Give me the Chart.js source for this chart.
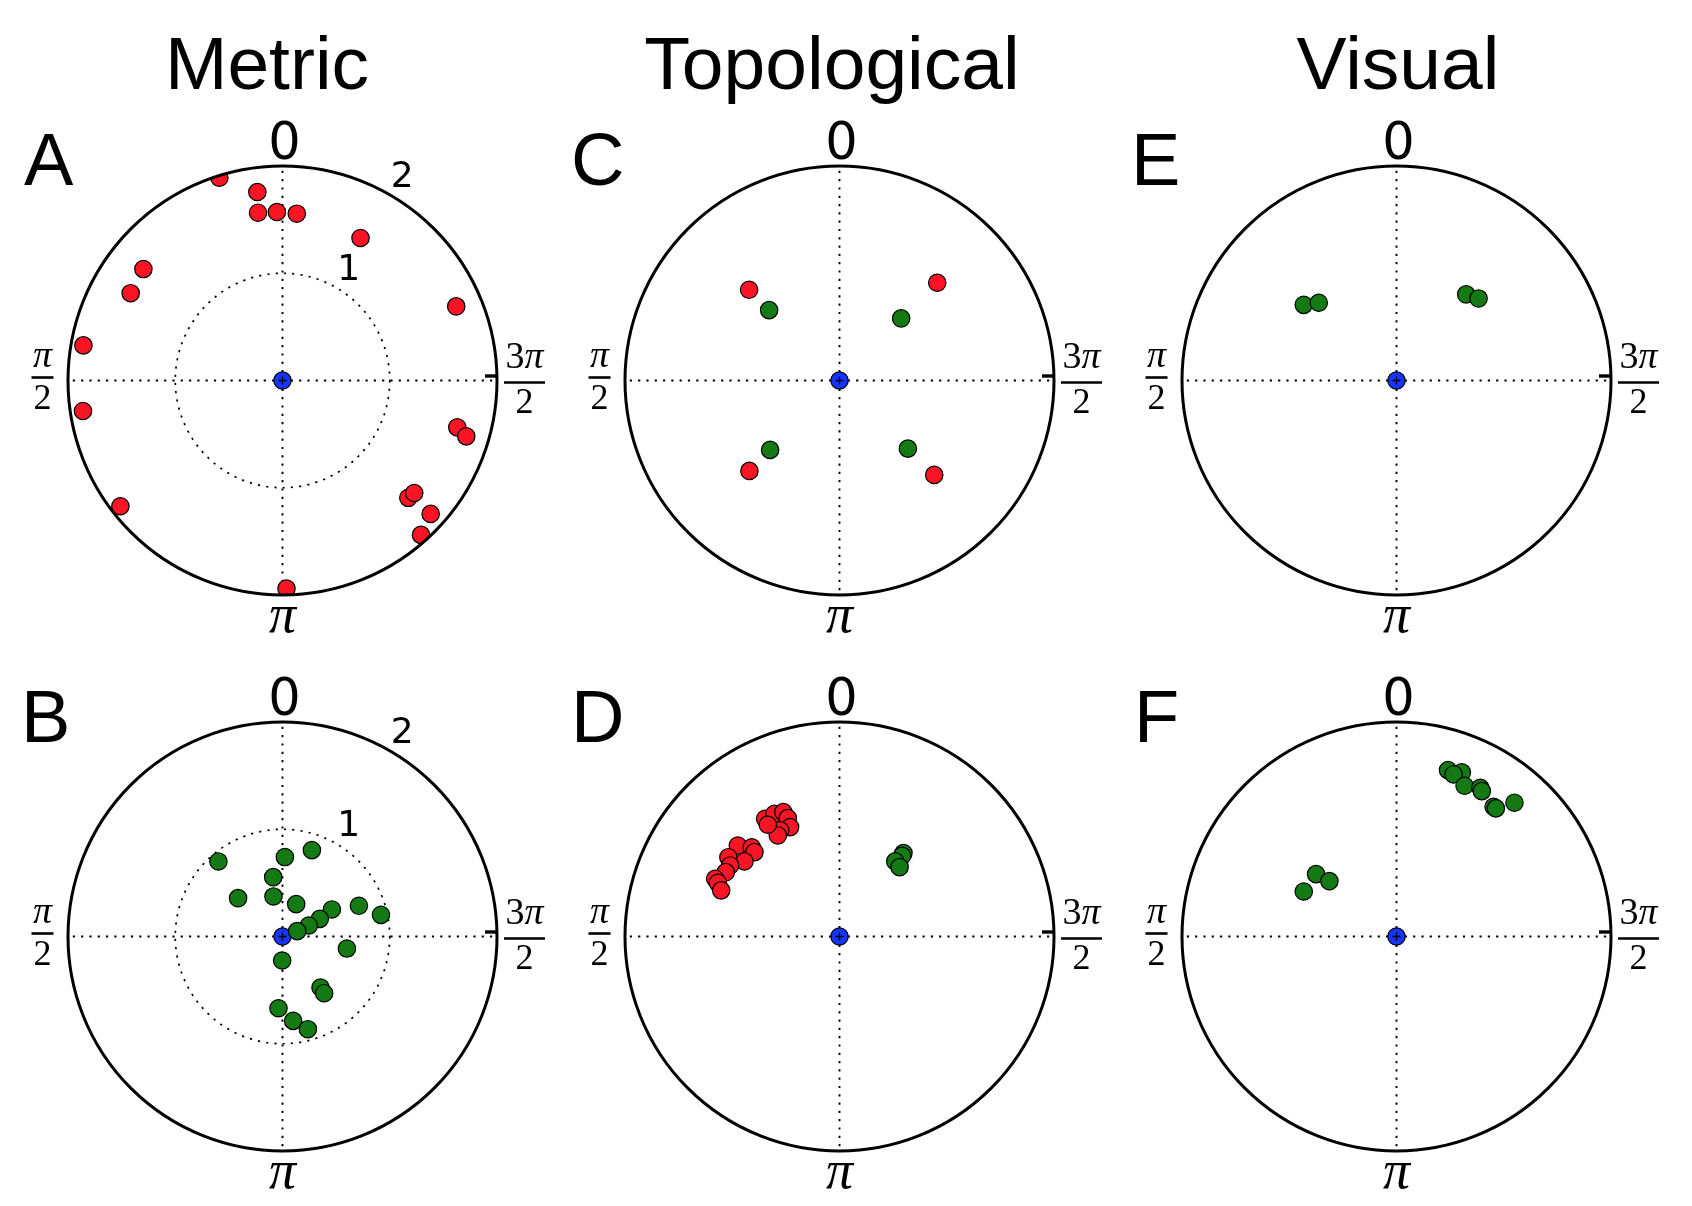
<!DOCTYPE html>
<html>
<head>
<meta charset="utf-8">
<script src="https://cdn.jsdelivr.net/npm/chart.js@4.4.1/dist/chart.umd.min.js"></script>
<style>
  html, body { margin: 0; padding: 0; background: #fff; width: 1692px; height: 1206px; overflow: hidden; }
  #page { position: relative; width: 1692px; height: 1206px; }
  canvas { position: absolute; }
  .title { position: absolute; font-family: "Liberation Sans", Arial, sans-serif; font-size: 75px; line-height: 1; white-space: nowrap; transform: translateX(-50%); color: #000; }
  .letter { position: absolute; font-family: "Liberation Sans", Arial, sans-serif; font-size: 74px; line-height: 1; color: #000; }
</style>
</head>
<body>
<div id="page"></div>
<script>
// ---- data (theta in degrees, counter-clockwise from the top; r in axis units) ----
const RMAX = 2;
const columnTitles = ['Metric', 'Topological', 'Visual'];
const panelLetters = ['A', 'B', 'C', 'D', 'E', 'F'];
const angleTickDeg = [0, 90, 180, 270];
const angleTickLabels = ['0', 'π/2', 'π', '3π/2'];
const radialTicks = [1, 2];

// A (metric, red)
const aRedTheta = [17.3, 7.6, 8.3, 1.9, 355.1, 331.3, 51.3, 60.1, 80.0, 98.7, 127.8, 293.1, 255.0, 253.1, 227.0, 229.5, 228.0, 221.9, 181.1];
const aRedR     = [1.98, 1.773, 1.581, 1.572, 1.561, 1.515, 1.662, 1.633, 1.885, 1.882, 1.913, 1.761, 1.687, 1.791, 1.604, 1.615, 1.859, 1.934, 1.94];

// B (metric, green)
const bGreenTheta = [40.5, 358.3, 341.2, 8.9, 49.2, 12.7, 337.1, 298.7, 291.9, 282.4, 295.3, 292.7, 290.0, 259.4, 179.2, 216.7, 216.3, 176.8, 187.2, 195.3];
const bGreenR     = [0.92, 0.741, 0.851, 0.56, 0.547, 0.383, 0.328, 0.525, 0.768, 0.94, 0.385, 0.266, 0.146, 0.611, 0.224, 0.593, 0.656, 0.67, 0.793, 0.896];

// C (topological)
const cRedTheta   = [44.9, 315.0, 135.1, 225.1];
const cRedR       = [1.194, 1.289, 1.19, 1.247];
const cGreenTheta = [45.0, 315.2, 135.0, 225.1];
const cGreenR     = [0.928, 0.816, 0.915, 0.9];

// D (topological)
const dRedTheta = [32.3, 27.9, 24.3, 23.6, 24.3, 29.2, 31.4, 32.7, 48.2, 44.5, 45.2, 51.7, 54.5, 57.0, 60.5, 65.1, 66.2, 68.7];
const dRedR     = [1.298, 1.295, 1.272, 1.204, 1.119, 1.133, 1.104, 1.238, 1.272, 1.167, 1.117, 1.129, 1.273, 1.216, 1.218, 1.278, 1.24, 1.184];
const dGreenTheta = [322.5, 322.2, 323.4, 319.1];
const dGreenR     = [0.98, 0.953, 0.872, 0.856];

// E (visual)
const eGreenTheta = [50.8, 45.0, 321.0, 315.0];
const eGreenR     = [1.116, 1.025, 1.033, 1.082];

// F (visual)
const fGreenTheta = [52.2, 50.5, 64.1, 342.8, 338.3, 340.6, 335.7, 330.6, 329.6, 323.2, 322.2, 318.6];
const fGreenR     = [0.949, 0.811, 0.961, 1.624, 1.647, 1.602, 1.542, 1.592, 1.572, 1.511, 1.512, 1.663];

const RED = '#fb1524', GREEN = '#147b14', BLUE = '#1634ff';

// panel placement: circle centre in page pixels
const panels = [
  { letter: 'A', cx: 282.5, cy: 380, rings: true,  series: [[aRedTheta, aRedR, RED]] },
  { letter: 'B', cx: 282.5, cy: 936, rings: true,  series: [[bGreenTheta, bGreenR, GREEN]] },
  { letter: 'C', cx: 839.5, cy: 380, rings: false, series: [[cRedTheta, cRedR, RED], [cGreenTheta, cGreenR, GREEN]] },
  { letter: 'D', cx: 839.5, cy: 936, rings: false, series: [[dRedTheta, dRedR, RED], [dGreenTheta, dGreenR, GREEN]] },
  { letter: 'E', cx: 1396.3, cy: 380, rings: false, series: [[eGreenTheta, eGreenR, GREEN]] },
  { letter: 'F', cx: 1396.3, cy: 936, rings: false, series: [[fGreenTheta, fGreenR, GREEN]] }
];
const letterLeft = { A: 24, B: 21, C: 571, D: 571, E: 1131, F: 1134 };
const titleCenters = [267, 832, 1398];

const SIZE = 561, PAD = 66;

// polar -> cartesian (0 at top, angle grows anticlockwise)
function toXY(theta, r) {
  return theta.map((t, i) => {
    const a = t * Math.PI / 180;
    return { x: -r[i] * Math.sin(a), y: r[i] * Math.cos(a) };
  });
}

// digits upright, pi italic, centred on x
function drawMath(ctx, str, x, y, size) {
  const parts = str.split('').map(ch => ({ ch, font: (ch === 'π' ? 'italic ' : '') + size + 'px "Liberation Serif", serif' }));
  let w = 0;
  parts.forEach(p => { ctx.font = p.font; p.w = ctx.measureText(p.ch).width; w += p.w; });
  let px = x - w / 2;
  ctx.textAlign = 'left';
  ctx.textBaseline = 'alphabetic';
  parts.forEach(p => { ctx.font = p.font; ctx.fillText(p.ch, px, y); px += p.w; });
  return w;
}

function drawFraction(ctx, num, den, x, yNum, yBar, yDen) {
  const w1 = drawMath(ctx, num, x, yNum, 38);
  const w2 = drawMath(ctx, den, x, yDen, 36);
  const hw = Math.max(w1, w2) / 2 + 1.5;
  ctx.setLineDash([]);
  ctx.lineWidth = 2.6;
  ctx.beginPath(); ctx.moveTo(x - hw, yBar); ctx.lineTo(x + hw, yBar); ctx.stroke();
}

const polarFrame = {
  id: 'polarFrame',
  beforeDatasetsDraw(chart, args, opts) {
    const { ctx, scales: { x, y } } = chart;
    const cx = x.getPixelForValue(0), cy = y.getPixelForValue(0);
    const R = x.getPixelForValue(RMAX) - cx;
    ctx.save();
    ctx.strokeStyle = '#000';
    ctx.lineWidth = 1.9;
    ctx.setLineDash([2.2, 6.1]);
    angleTickDeg.forEach(d => {
      const a = d * Math.PI / 180;
      ctx.beginPath();
      ctx.moveTo(cx, cy);
      ctx.lineTo(cx - R * Math.sin(a), cy - R * Math.cos(a));
      ctx.stroke();
    });
    if (opts.rings) {
      ctx.lineWidth = 1.7;
      radialTicks.filter(t => t < RMAX).forEach(t => {
        ctx.beginPath();
        ctx.arc(cx, cy, x.getPixelForValue(t) - cx, 0, Math.PI * 2);
        ctx.stroke();
      });
    }
    ctx.restore();
    // clip the markers to the polar disc
    ctx.save();
    ctx.beginPath();
    ctx.arc(cx, cy, R, 0, Math.PI * 2);
    ctx.clip();
  },
  afterDatasetsDraw(chart, args, opts) {
    const { ctx, scales: { x, y } } = chart;
    ctx.restore();
    const cx = x.getPixelForValue(0), cy = y.getPixelForValue(0);
    const R = x.getPixelForValue(RMAX) - cx;
    ctx.save();
    ctx.strokeStyle = '#000';
    ctx.fillStyle = '#000';
    ctx.setLineDash([]);
    ctx.lineWidth = 3;
    ctx.beginPath();
    ctx.arc(cx, cy, R, 0, Math.PI * 2);
    ctx.stroke();
    // small tick at 3pi/2
    ctx.lineWidth = 3.4;
    ctx.beginPath();
    ctx.moveTo(cx + R - 12, cy - 4.5);
    ctx.lineTo(cx + R + 1, cy - 4.5);
    ctx.stroke();

    // angular labels
    angleTickLabels.forEach((lab, i) => {
      const d = angleTickDeg[i];
      if (d === 0) {
        ctx.font = '51px "DejaVu Sans", sans-serif';
        ctx.textAlign = 'center';
        ctx.textBaseline = 'alphabetic';
        ctx.fillText(lab, cx + 2, cy - R - 7.5);
      } else if (d === 180) {
        drawMath(ctx, lab, cx, cy + R + 37, 54);
      } else {
        const [num, den] = lab.split('/');
        if (d === 90) drawFraction(ctx, num, den, cx - R - 25.5, cy - 14, cy - 3, cy + 28);
        else drawFraction(ctx, num, den, cx + R + 27.5, cy - 13, cy + 2, cy + 32);
      }
    });

    // radial labels
    if (opts.rings) {
      const a = 330 * Math.PI / 180;
      ctx.font = '36px "DejaVu Sans", sans-serif';
      ctx.textAlign = 'left';
      ctx.textBaseline = 'alphabetic';
      radialTicks.forEach(t => {
        const rp = x.getPixelForValue(t) - cx;
        const px = cx - rp * Math.sin(a), py = cy - rp * Math.cos(a);
        ctx.fillText(String(t), px + 1, py - 7.5);
      });
    }
    ctx.restore();
  }
};

const page = document.getElementById('page');

columnTitles.forEach((t, i) => {
  const d = document.createElement('div');
  d.className = 'title';
  d.textContent = t;
  d.style.left = titleCenters[i] + 'px';
  d.style.top = (89 - 0.8465 * 75) + 'px';
  page.appendChild(d);
});

panels.forEach(p => {
  const cv = document.createElement('canvas');
  cv.width = SIZE; cv.height = SIZE;
  cv.style.width = SIZE + 'px'; cv.style.height = SIZE + 'px';
  cv.style.left = (p.cx - SIZE / 2) + 'px';
  cv.style.top = (p.cy - SIZE / 2) + 'px';
  page.appendChild(cv);

  const datasets = p.series.map(([th, rr, col]) => ({
    data: toXY(th, rr),
    pointRadius: 8.7,
    pointBackgroundColor: col,
    pointBorderColor: '#000',
    pointBorderWidth: 1.2,
    showLine: false,
    clip: false,
    order: 1
  }));
  datasets.push({
    data: [{ x: 0, y: 0 }], pointRadius: 8.7, pointBackgroundColor: BLUE,
    pointBorderColor: '#000', pointBorderWidth: 1.2, clip: false, order: 10
  });
  datasets.push({
    data: [{ x: 0, y: 0 }], pointStyle: 'cross', pointRadius: 4,
    pointBorderColor: '#000', pointBorderWidth: 1.3, clip: false, order: 9
  });

  new Chart(cv.getContext('2d'), {
    type: 'scatter',
    data: { datasets },
    options: {
      responsive: false,
      animation: false,
      events: [],
      layout: { padding: PAD },
      plugins: { legend: { display: false }, tooltip: { enabled: false }, polarFrame: { rings: p.rings } },
      scales: {
        x: { type: 'linear', min: -RMAX, max: RMAX, display: false },
        y: { type: 'linear', min: -RMAX, max: RMAX, display: false }
      }
    },
    plugins: [polarFrame]
  });

  const l = document.createElement('div');
  l.className = 'letter';
  l.textContent = p.letter;
  l.style.left = letterLeft[p.letter] + 'px';
  l.style.top = ((p.cy < 600 ? 186 : 743) - 0.8465 * 74) + 'px';
  page.appendChild(l);
});
</script>
</body>
</html>
